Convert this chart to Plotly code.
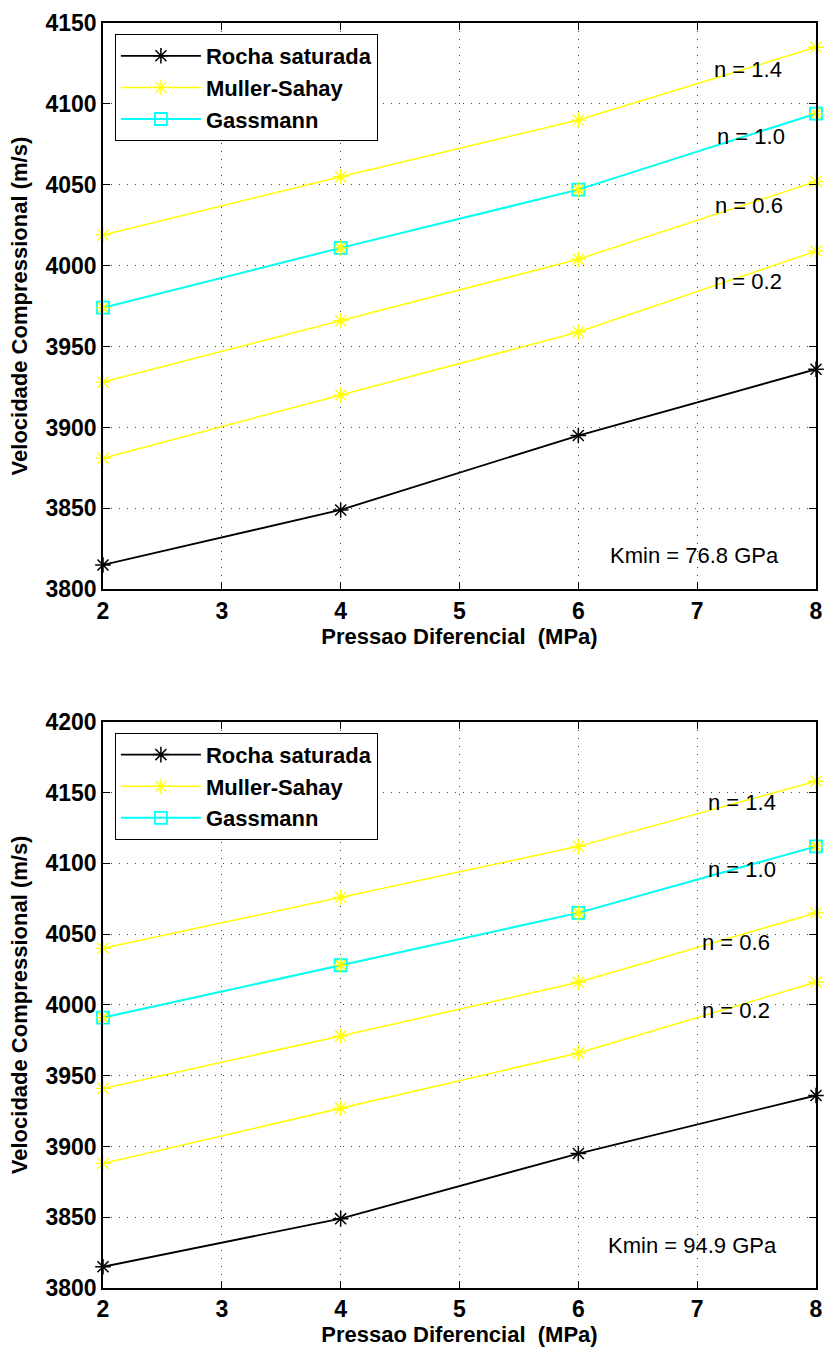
import plotly.graph_objects as go
from plotly.subplots import make_subplots

pressure = [2, 4, 6, 8]

# Top panel (Kmin = 76.8 GPa)
rocha_top = [3815, 3849, 3895, 3936]
ms_top_n02 = [3881, 3920, 3959, 4009]
ms_top_n06 = [3928, 3966, 4004, 4052]
ms_top_n10 = [3974, 4011, 4047, 4094]
ms_top_n14 = [4019, 4055, 4090, 4135]
gass_top = [3974, 4011, 4047, 4094]

# Bottom panel (Kmin = 94.9 GPa)
rocha_bot = [3815, 3849, 3895, 3936]
ms_bot_n02 = [3888, 3927, 3966, 4016]
ms_bot_n06 = [3941, 3978, 4016, 4065]
ms_bot_n10 = [3991, 4028, 4065, 4112]
ms_bot_n14 = [4040, 4076, 4112, 4158]
gass_bot = [3991, 4028, 4065, 4112]

n_labels = ["n = 0.2", "n = 0.6", "n = 1.0", "n = 1.4"]
n_label_x_top = [7.43, 7.44, 7.45, 7.43]
n_label_y_top = [3990, 4037, 4080, 4121]
n_label_x_bot = [7.33, 7.33, 7.38, 7.38]
n_label_y_bot = [3996, 4044, 4096, 4143]
kmin_labels = ["Kmin = 76.8 GPa", "Kmin = 94.9 GPa"]
kmin_pos = [(6.98, 3821), (6.96, 3830)]

FONT = "Liberation Sans"
YELLOW = "#FFFF00"
CYAN = "#00FFFF"

fig = make_subplots(rows=2, cols=1, vertical_spacing=0.1048)


def add_panel(row, rocha, ms_list, gass, legend_name):
    fig.add_trace(go.Scatter(
        x=pressure, y=rocha, name="Rocha saturada", mode="lines+markers",
        line=dict(color="black", width=1.8), cliponaxis=False,
        marker=dict(symbol="asterisk-open", size=13, color="black",
                    line=dict(color="black", width=1.5)),
        legend=legend_name, legendrank=1), row=row, col=1)
    for i, ys in enumerate(ms_list):
        fig.add_trace(go.Scatter(
            x=pressure, y=ys, name="Muller-Sahay", mode="lines+markers",
            line=dict(color=YELLOW, width=1.5), cliponaxis=False,
            marker=dict(symbol="asterisk-open", size=13, color=YELLOW,
                        line=dict(color=YELLOW, width=1.3)),
            showlegend=(i == 0), legend=legend_name, legendrank=2), row=row, col=1)
    fig.add_trace(go.Scatter(
        x=pressure, y=gass, name="Gassmann", mode="lines+markers",
        line=dict(color=CYAN, width=2), cliponaxis=False,
        marker=dict(symbol="square-open", size=12, color=CYAN,
                    line=dict(color=CYAN, width=1.8)),
        legend=legend_name, legendrank=3), row=row, col=1)
    # yellow asterisks overlaying Gassmann squares (n = 1.0)
    fig.add_trace(go.Scatter(
        x=pressure, y=ms_list[2], mode="markers", showlegend=False, cliponaxis=False,
        marker=dict(symbol="asterisk-open", size=11, color=YELLOW,
                    line=dict(color=YELLOW, width=1.3))),
        row=row, col=1)


add_panel(1, rocha_top, [ms_top_n02, ms_top_n06, ms_top_n10, ms_top_n14], gass_top, "legend")
add_panel(2, rocha_bot, [ms_bot_n02, ms_bot_n06, ms_bot_n10, ms_bot_n14], gass_bot, "legend2")

for xa, ya, xs, ys in [("x", "y", n_label_x_top, n_label_y_top), ("x2", "y2", n_label_x_bot, n_label_y_bot)]:
    for lab, xx, yy in zip(n_labels, xs, ys):
        fig.add_annotation(x=xx, y=yy, xref=xa, yref=ya, text=lab, showarrow=False,
                           xanchor="center", yanchor="middle",
                           font=dict(family=FONT, size=22, color="black"))
for (xx, yy), lab, xa, ya in zip(kmin_pos, kmin_labels, ["x", "x2"], ["y", "y2"]):
    fig.add_annotation(x=xx, y=yy, xref=xa, yref=ya, text=lab, showarrow=False,
                       xanchor="center", yanchor="middle",
                       font=dict(family=FONT, size=22, color="black"))

axis_common = dict(
    showline=True, linecolor="black", linewidth=1.5, mirror="ticks",
    ticks="inside", ticklen=7, tickcolor="black", tickwidth=1,
    showgrid=True, gridcolor="#444444", gridwidth=1, griddash="1px,7px",
    zeroline=False,
    tickfont=dict(family=FONT, size=23, color="black", weight="bold"),
)

title_font = dict(family=FONT, size=22, color="black", weight="bold")

for r in (1, 2):
    fig.update_xaxes(range=[2, 8], dtick=1, tick0=2, row=r, col=1,
                     title=dict(text="Pressao Diferencial\u00a0 (MPa)", standoff=0, font=title_font),
                     **axis_common)
fig.update_yaxes(range=[3800, 4150], dtick=50, row=1, col=1,
                 title=dict(text="Velocidade Compressional (m/s)", standoff=12, font=title_font),
                 **axis_common)
fig.update_yaxes(range=[3800, 4200], dtick=50, row=2, col=1,
                 title=dict(text="Velocidade Compressional (m/s)", standoff=12, font=title_font),
                 **axis_common)

legend_common = dict(
    xanchor="left", yanchor="top",
    bordercolor="black", borderwidth=1, bgcolor="white",
    font=dict(family=FONT, size=22, color="black", weight="bold"),
    itemwidth=80, tracegroupgap=0, traceorder="normal",
)

fig.update_layout(
    width=833, height=1349,
    margin=dict(l=103, r=10, t=19, b=61),
    paper_bgcolor="white", plot_bgcolor="white",
    font=dict(family=FONT, color="black"),
    xaxis=dict(domain=[0, 1]),
    yaxis=dict(domain=[0.5524, 1.0]),
    yaxis2=dict(domain=[0.0, 0.4476]),
    legend=dict(x=0.0167, y=0.9913, **legend_common),
    legend2=dict(x=0.0167, y=0.4389, **legend_common),
    showlegend=True,
)

fig.write_html("out.html")
